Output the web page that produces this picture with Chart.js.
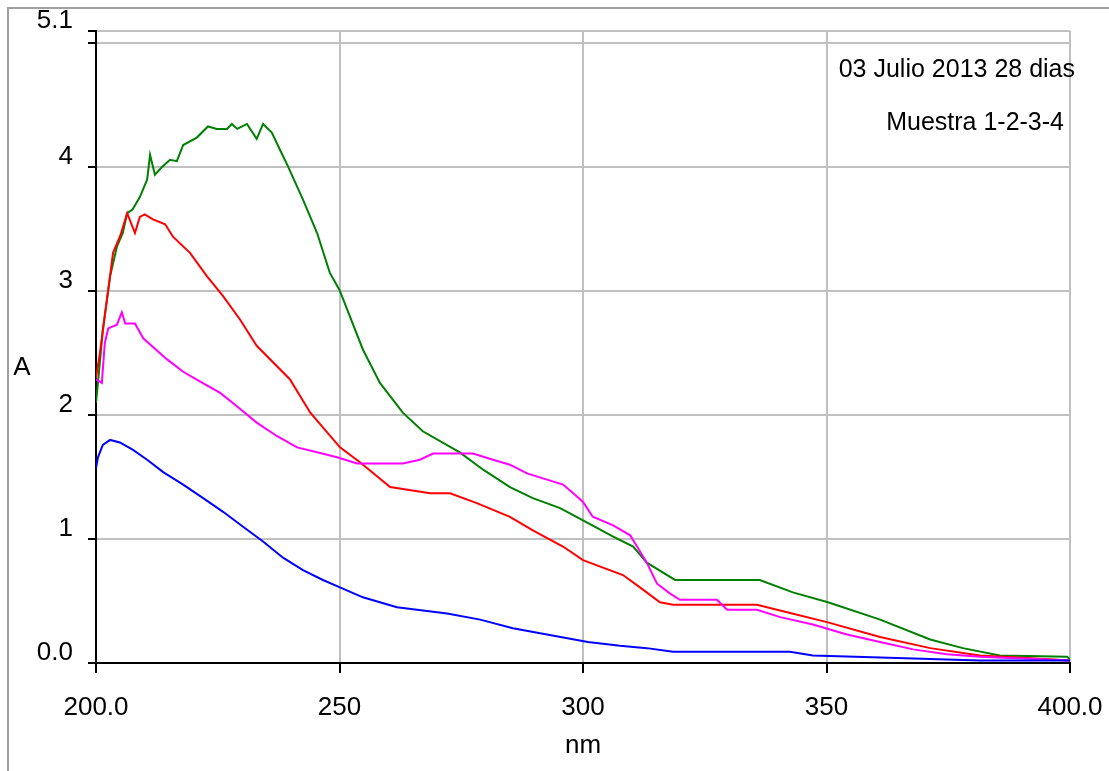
<!DOCTYPE html>
<html>
<head>
<meta charset="utf-8">
<script src="https://cdn.jsdelivr.net/npm/chart.js@4.4.0/dist/chart.umd.min.js"></script>
<style>
  body { margin: 0; background: #fff; }
  #wrap { width: 1109px; height: 771px; position: relative; }
</style>
</head>
<body>
<div id="wrap"><canvas id="myChart"></canvas></div>
<script>
/* data */
var xTicks = [200, 250, 300, 350, 400];
var xTickLabels = ['200.0', '250', '300', '350', '400.0'];
var yTicks = [0, 1, 2, 3, 4, 5, 5.1];
var yTickLabels = ['0.0', '1', '2', '3', '4', '', '5.1'];

var greenNm = [200, 200.5, 201.4, 202.9, 204.3, 205.5, 206.4, 207.5, 209, 210.5, 211.1, 212.1, 213.5, 215.2, 216.6, 217.9, 220.7, 223, 224.8, 226.9, 227.9, 229, 231, 233, 234.3, 236.1, 237.8, 239.4, 242.5, 245.4, 248, 250, 254.8, 258.3, 263, 267.1, 274.7, 279.5, 285, 289.7, 295.3, 300, 306.2, 310.3, 313.1, 318.9, 336.3, 343.1, 350.3, 361, 371.3, 378, 385.6, 399.4, 400];
var greenA = [2.10, 2.30, 2.69, 3.12, 3.36, 3.47, 3.63, 3.66, 3.76, 3.90, 4.10, 3.94, 4.00, 4.06, 4.05, 4.18, 4.24, 4.33, 4.31, 4.31, 4.35, 4.31, 4.35, 4.23, 4.35, 4.28, 4.14, 4.01, 3.74, 3.47, 3.15, 3.01, 2.53, 2.26, 2.02, 1.87, 1.70, 1.56, 1.42, 1.33, 1.25, 1.15, 1.02, 0.94, 0.81, 0.67, 0.67, 0.57, 0.49, 0.35, 0.19, 0.12, 0.06, 0.05, 0.03];

var redNm = [200, 200.8, 201.8, 203.5, 205, 206.4, 208, 209, 210, 211.7, 214.2, 215.8, 219.3, 222.8, 226.1, 229.6, 233, 239.8, 244, 250.1, 254.2, 260.4, 268.6, 272.7, 278.2, 285, 289.7, 295.9, 300, 308.2, 311.7, 315.8, 318.5, 335.7, 341.9, 350.1, 361, 371.3, 381.5, 391.2, 400];
var redA = [2.30, 2.50, 2.80, 3.31, 3.45, 3.63, 3.47, 3.60, 3.62, 3.58, 3.54, 3.44, 3.31, 3.12, 2.96, 2.77, 2.56, 2.29, 2.02, 1.74, 1.62, 1.42, 1.37, 1.37, 1.29, 1.18, 1.07, 0.94, 0.83, 0.71, 0.61, 0.49, 0.47, 0.47, 0.41, 0.33, 0.21, 0.12, 0.06, 0.04, 0.02];

var magentaNm = [200, 201.2, 201.8, 202.5, 204.3, 205.3, 206, 208, 209.7, 211.7, 214.6, 217.9, 221.4, 225.5, 229, 233, 237.2, 241.3, 245.4, 249.5, 253.6, 263, 266.5, 269.2, 277.4, 281.5, 285, 288.5, 292.6, 295.9, 298, 300, 302, 306.2, 309.7, 311.1, 313.1, 315.2, 317.9, 319.9, 327.5, 329.6, 335.7, 340.5, 347.2, 354.2, 361, 367.8, 374.7, 381.5, 400];
var magentaA = [2.29, 2.26, 2.58, 2.70, 2.73, 2.83, 2.74, 2.74, 2.62, 2.55, 2.45, 2.35, 2.27, 2.18, 2.07, 1.94, 1.83, 1.74, 1.70, 1.66, 1.61, 1.61, 1.64, 1.69, 1.69, 1.64, 1.60, 1.53, 1.48, 1.44, 1.37, 1.30, 1.18, 1.11, 1.03, 0.94, 0.81, 0.64, 0.56, 0.51, 0.51, 0.43, 0.43, 0.37, 0.31, 0.23, 0.17, 0.11, 0.07, 0.05, 0.02];

var blueNm = [200, 200.4, 201.4, 202.9, 204.9, 207.6, 210.5, 213.8, 217.9, 222, 226.1, 230.2, 234.3, 238.4, 242.5, 246.6, 250.1, 254.8, 261.8, 272.1, 278.9, 285.6, 292.6, 301, 307.6, 313.1, 318.5, 342.5, 347.2, 364.5, 381.5, 400];
var blueA = [1.57, 1.66, 1.76, 1.80, 1.78, 1.72, 1.64, 1.54, 1.44, 1.33, 1.22, 1.10, 0.98, 0.85, 0.75, 0.67, 0.61, 0.53, 0.45, 0.40, 0.35, 0.28, 0.23, 0.17, 0.14, 0.12, 0.09, 0.09, 0.06, 0.04, 0.02, 0.02];

function pts(xs, ys) {
    return xs.map(function (x, i) { return { x: x, y: ys[i] }; });
}

var FONT = "'Liberation Sans', Arial, sans-serif";

/* frame, axis letter and the notes in the corner */
const decor = {
    id: 'decor',
    beforeDraw(chart) {
        const c = chart.ctx;
        c.save();
        c.strokeStyle = '#a0a0a0';
        c.lineWidth = 2;
        c.beginPath();
        c.moveTo(8, 771);
        c.lineTo(8, 8);
        c.lineTo(1109, 8);
        c.stroke();
        c.restore();
    },
    afterDraw(chart) {
        const c = chart.ctx;
        c.save();
        c.fillStyle = '#000';
        c.textBaseline = 'middle';
        c.font = '25px ' + FONT;
        c.textAlign = 'right';
        c.fillText('03 Julio 2013 28 dias', 1075, 70);
        c.fillText('Muestra 1-2-3-4', 1064, 123);
        c.font = '26px ' + FONT;
        c.textAlign = 'center';
        c.fillText('A', 22, 368);
        c.restore();
    }
};

const ctx = document.getElementById('myChart');

new Chart(ctx, {
    type: 'line',
    data: {
        datasets: [{
            label: 'Muestra 4',
            data: pts(blueNm, blueA),
            borderColor: '#0000ff'
        }, {
            label: 'Muestra 3',
            data: pts(magentaNm, magentaA),
            borderColor: '#ff00ff'
        }, {
            label: 'Muestra 2',
            data: pts(redNm, redA),
            borderColor: '#ff0000'
        }, {
            label: 'Muestra 1',
            data: pts(greenNm, greenA),
            borderColor: '#008000'
        }]
    },
    options: {
        responsive: true,
        maintainAspectRatio: false,
        animation: false,
        parsing: false,
        layout: { padding: { left: 0, right: 39, top: 31, bottom: 0 } },
        elements: {
            point: { radius: 0 },
            line: { borderWidth: 2, tension: 0 }
        },
        plugins: {
            legend: { display: false },
            tooltip: { enabled: false }
        },
        scales: {
            x: {
                type: 'linear',
                min: 200,
                max: 400,
                afterBuildTicks: function (scale) {
                    scale.ticks = xTicks.map(function (v) { return { value: v }; });
                },
                afterFit: function (scale) {
                    scale.height = 108;
                    scale.paddingLeft = 0;
                    scale.paddingRight = 0;
                },
                ticks: {
                    color: '#000',
                    font: { family: FONT, size: 26 },
                    padding: 19,
                    maxRotation: 0,
                    callback: function (v) { return xTickLabels[xTicks.indexOf(v)]; }
                },
                grid: { color: '#c0c0c0', lineWidth: 2, tickColor: '#000', tickLength: 10, tickWidth: 2 },
                border: { color: '#000', width: 2 },
                title: {
                    display: true,
                    text: 'nm',
                    color: '#000',
                    font: { family: FONT, size: 26 },
                    padding: { top: 0, bottom: 10 }
                }
            },
            y: {
                type: 'linear',
                min: 0,
                max: 5.1,
                afterBuildTicks: function (scale) {
                    scale.ticks = yTicks.map(function (v) { return { value: v }; });
                },
                afterFit: function (scale) {
                    scale.width = 96;
                    scale.paddingTop = 0;
                    scale.paddingBottom = 0;
                },
                ticks: {
                    color: '#000',
                    font: { family: FONT, size: 26 },
                    padding: 15,
                    labelOffset: -10,
                    callback: function (v) { return yTickLabels[yTicks.indexOf(v)]; }
                },
                grid: { color: '#c0c0c0', lineWidth: 2, tickColor: '#000', tickLength: 8, tickWidth: 2 },
                border: { color: '#000', width: 2 }
            }
        }
    },
    plugins: [decor]
});
</script>
</body>
</html>
